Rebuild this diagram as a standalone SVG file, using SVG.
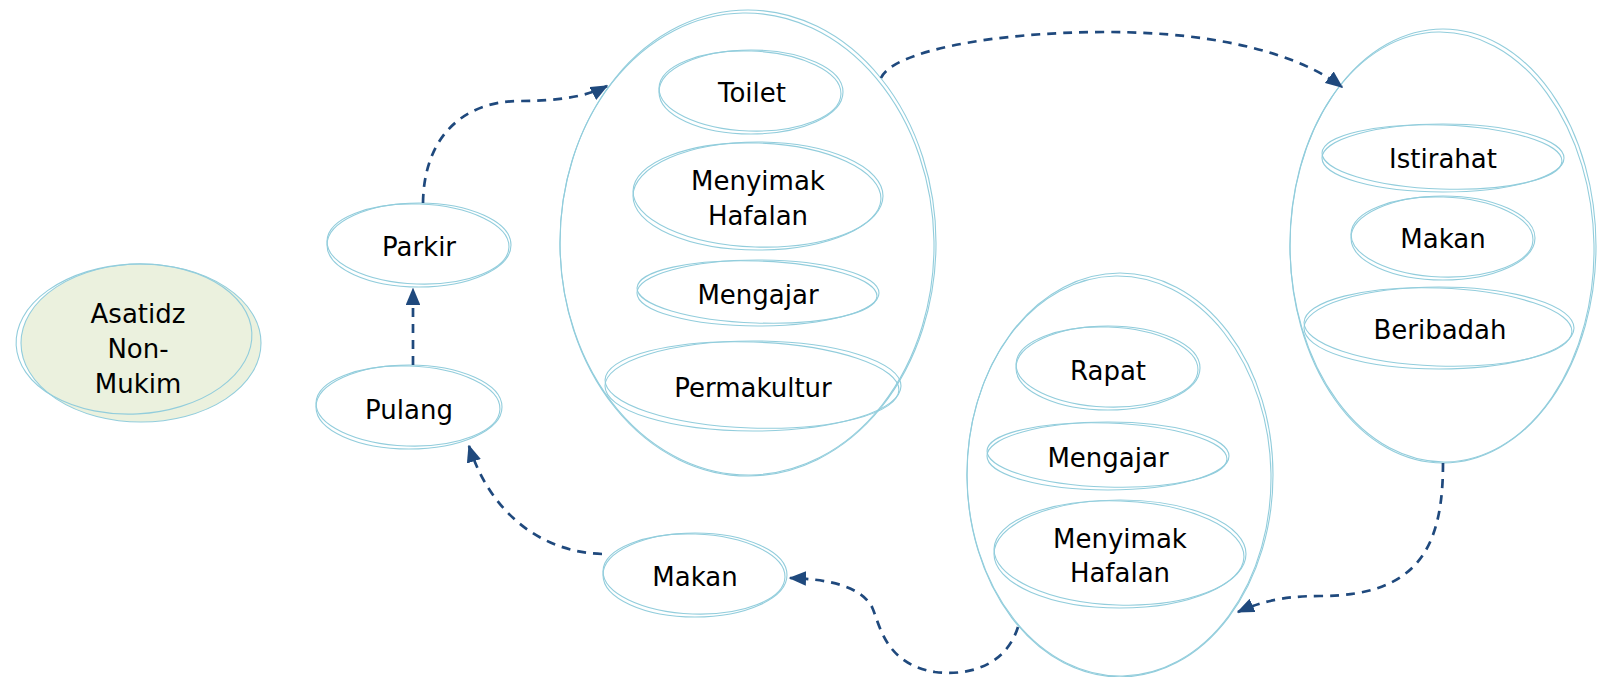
<svg xmlns="http://www.w3.org/2000/svg" width="1605" height="677" viewBox="0 0 1605 677">
<style>
.o{fill:none;stroke:#92cddc;stroke-width:1.1}
.t{font-family:"DejaVu Sans",sans-serif;font-size:26px;fill:#000;text-anchor:middle}
.c{fill:none;stroke:#1f497d;stroke-width:2.7;stroke-dasharray:9,7}
</style>
<defs>
<marker id="ah" viewBox="0 0 12 10" refX="11" refY="5" markerWidth="6.5" markerHeight="5.4" markerUnits="strokeWidth" orient="auto">
<path d="M0,0 L12,5 L0,10 z" fill="#1f497d"/>
</marker>
</defs>
<rect width="1605" height="677" fill="#fff"/>
<g id="asatidz">
<ellipse cx="141" cy="343" rx="120" ry="79" fill="#ebf1de" stroke="#92cddc" stroke-width="1.1"/>
<ellipse cx="134" cy="339" rx="118" ry="75" class="o" transform="rotate(-3 134 339)"/>
<text class="t" x="138" y="323">Asatidz</text>
<text class="t" x="138" y="358">Non-</text>
<text class="t" x="138" y="393">Mukim</text>
</g>
<g id="parkir">
<ellipse cx="419" cy="245" rx="92" ry="42" class="o"/>
<ellipse cx="418" cy="244" rx="91" ry="40" class="o" transform="rotate(2 418 244)"/>
<text class="t" x="419" y="256">Parkir</text>
</g>
<g id="pulang">
<ellipse cx="409" cy="407" rx="93" ry="42" class="o"/>
<ellipse cx="408" cy="406" rx="92" ry="40" class="o" transform="rotate(2 408 406)"/>
<text class="t" x="409" y="419">Pulang</text>
</g>
<g id="makan1">
<ellipse cx="695" cy="575" rx="92" ry="42" class="o"/>
<ellipse cx="694" cy="574" rx="91" ry="40" class="o" transform="rotate(2 694 574)"/>
<text class="t" x="695" y="586">Makan</text>
</g>
<g id="group1">
<ellipse cx="748" cy="243" rx="188" ry="233" class="o"/>
<ellipse cx="747" cy="244" rx="187" ry="231" class="o" transform="rotate(-1 747 244)"/>
<g id="toilet">
<ellipse cx="751" cy="92" rx="92" ry="42" class="o"/>
<ellipse cx="750" cy="91" rx="91" ry="40" class="o" transform="rotate(2 750 91)"/>
<text class="t" x="752" y="102">Toilet</text>
</g>
<g id="menyimak1">
<ellipse cx="758" cy="196" rx="125" ry="54" class="o"/>
<ellipse cx="757" cy="195" rx="124" ry="52" class="o" transform="rotate(2 757 195)"/>
<text class="t" x="758" y="190">Menyimak</text>
<text class="t" x="758" y="225">Hafalan</text>
</g>
<g id="mengajar1">
<ellipse cx="758" cy="293" rx="121" ry="33" class="o"/>
<ellipse cx="757" cy="292" rx="120" ry="31" class="o" transform="rotate(2 757 292)"/>
<text class="t" x="758" y="304">Mengajar</text>
</g>
<g id="permakultur">
<ellipse cx="753" cy="386" rx="148" ry="45" class="o"/>
<ellipse cx="752" cy="385" rx="147" ry="43" class="o" transform="rotate(2 752 385)"/>
<text class="t" x="753" y="397">Permakultur</text>
</g>
</g>
<g id="group2">
<ellipse cx="1443" cy="246" rx="153" ry="217" class="o"/>
<ellipse cx="1442" cy="247" rx="152" ry="215" class="o" transform="rotate(-1 1442 247)"/>
<g id="istirahat">
<ellipse cx="1443" cy="158" rx="121" ry="34" class="o"/>
<ellipse cx="1442" cy="157" rx="120" ry="32" class="o" transform="rotate(2 1442 157)"/>
<text class="t" x="1443" y="168">Istirahat</text>
</g>
<g id="makan2">
<ellipse cx="1443" cy="238" rx="92" ry="42" class="o"/>
<ellipse cx="1442" cy="237" rx="91" ry="40" class="o" transform="rotate(2 1442 237)"/>
<text class="t" x="1443" y="248">Makan</text>
</g>
<g id="beribadah">
<ellipse cx="1439" cy="328" rx="135" ry="41" class="o"/>
<ellipse cx="1438" cy="327" rx="134" ry="39" class="o" transform="rotate(2 1438 327)"/>
<text class="t" x="1440" y="339">Beribadah</text>
</g>
</g>
<g id="group3">
<ellipse cx="1120" cy="475" rx="153" ry="202" class="o"/>
<ellipse cx="1119" cy="476" rx="152" ry="200" class="o" transform="rotate(-1 1119 476)"/>
<g id="rapat">
<ellipse cx="1108" cy="368" rx="92" ry="42" class="o"/>
<ellipse cx="1107" cy="367" rx="91" ry="40" class="o" transform="rotate(2 1107 367)"/>
<text class="t" x="1108" y="380">Rapat</text>
</g>
<g id="mengajar2">
<ellipse cx="1108" cy="456" rx="121" ry="34" class="o"/>
<ellipse cx="1107" cy="455" rx="120" ry="32" class="o" transform="rotate(2 1107 455)"/>
<text class="t" x="1108" y="467">Mengajar</text>
</g>
<g id="menyimak2">
<ellipse cx="1120" cy="554" rx="126" ry="54" class="o"/>
<ellipse cx="1119" cy="553" rx="125" ry="52" class="o" transform="rotate(2 1119 553)"/>
<text class="t" x="1120" y="548">Menyimak</text>
<text class="t" x="1120" y="582">Hafalan</text>
</g>
</g>
<g id="connectors">
<path class="c" d="M413,365 L413,289" marker-end="url(#ah)"/>
<path class="c" d="M423,203 C424,135 465,101 520,101 C560,101 588,96 607,86" marker-end="url(#ah)"/>
<path class="c" d="M881,78 C892,52 990,32 1107,32 C1220,32 1300,55 1342,87" marker-end="url(#ah)"/>
<path class="c" d="M1443,463 C1443,545 1420,596 1320,596 C1280,596 1258,603 1238,612" marker-end="url(#ah)"/>
<path class="c" d="M1018,627 C1005,668 965,676 935,672 C885,664 880,625 872,607 C860,585 825,579 790,578" marker-end="url(#ah)"/>
<path class="c" d="M602,554 C540,552 490,512 469,446" marker-end="url(#ah)"/>
</g>
</svg>
